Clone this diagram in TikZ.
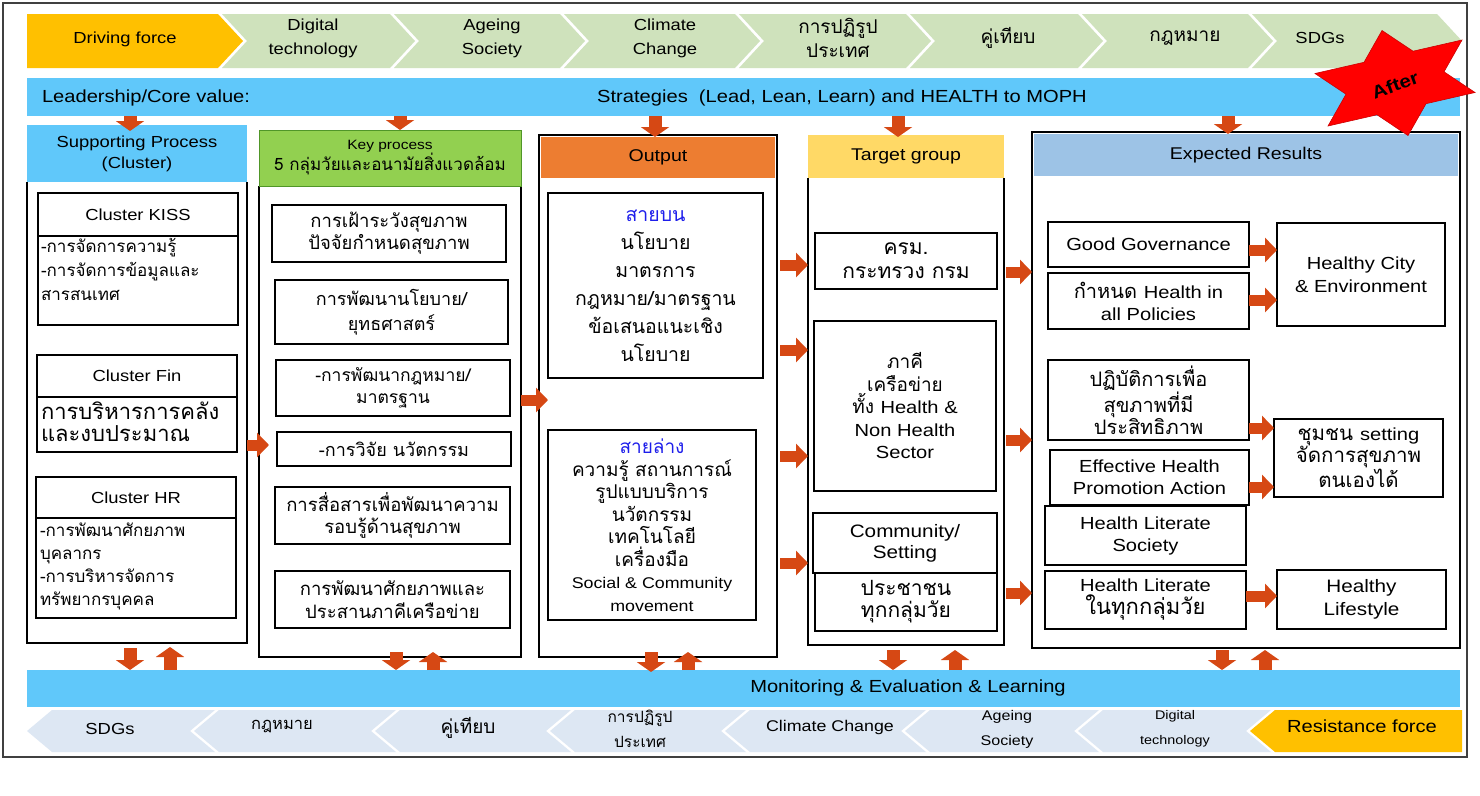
\documentclass[tikz,border=0pt]{standalone}
\usepackage{fontspec}
\setmainfont[FakeStretch=1.15]{Liberation Sans}
\newfontfamily\thai[Script=Thai]{Loma}
\newfontfamily\lat[FakeStretch=1.15]{Liberation Sans}
\usetikzlibrary{shapes.geometric,arrows.meta}
\definecolor{barblue}{RGB}{96,200,250}
\definecolor{chevgreen}{RGB}{207,226,188}
\definecolor{chevblue}{RGB}{221,231,243}
\definecolor{gold}{RGB}{255,192,0}
\definecolor{keygreen}{RGB}{146,208,80}
\definecolor{keyedge}{RGB}{80,150,40}
\definecolor{outorange}{RGB}{237,125,49}
\definecolor{tgyellow}{RGB}{255,217,102}
\definecolor{erblue}{RGB}{157,195,230}
\definecolor{arr}{RGB}{214,72,20}
\definecolor{thblue}{RGB}{30,30,235}
\newcommand\chevR[4]{\fill[#3] (#1,14) -- ({#2-25},14) -- (#2,41) -- ({#2-25},68) -- (#1,68) -- ({#1+25*#4},41) -- cycle;}
\newcommand\chevL[4]{\fill[#3] (#1,731) -- ({#1+25},710) -- (#2,710) -- ({#2-25*#4},731) -- (#2,752) -- ({#1+25},752) -- cycle;}
\newcommand\bx[6][]{\node[box,#1,minimum width={(#4-#2)*1pt},minimum height={(#5-#3)*1pt}] at ({(#2+#4)/2},{(#3+#5)/2}) {#6};}
\begin{document}
\begin{tikzpicture}[x=1pt,y=-1pt,
  every node/.style={align=center,inner sep=0pt,outer sep=0pt},
  box/.style={draw=black,line width=1.2pt,fill=white},
  colline/.style={draw=black,line width=2.6pt},
  thf/.style 2 args={font=\thai\fontsize{#1}{#2}\selectfont},
  enf/.style 2 args={font=\lat\fontsize{#1}{#2}\selectfont},
  rarr/.style={draw=arr,line width=11pt,-{Triangle[width=24pt,length=12pt]}},
  varr/.style={draw=arr,line width=13pt,-{Triangle[width=28pt,length=10pt]}},
]
\useasboundingbox (0,0) rectangle (1480,795);
\fill[white] (0,0) rectangle (1480,795);
\node[draw=black!75,line width=1.2pt,minimum width=1464pt,minimum height=754pt] (frame) at (735,380) {};

% top chevrons
\chevR{27}{243}{gold}{0}
\chevR{222}{415}{chevgreen}{1}
\chevR{394}{585}{chevgreen}{1}
\chevR{564}{760}{chevgreen}{1}
\chevR{739}{931}{chevgreen}{1}
\chevR{910}{1103}{chevgreen}{1}
\chevR{1082}{1273}{chevgreen}{1}
\chevR{1252}{1462}{chevgreen}{1}
\node[enf={16}{24}] (tc1) at (125,39) {Driving force};
\node[enf={16}{24}] (tc2) at (313,38) {Digital\\technology};
\node[enf={16}{24}] (tc3) at (492,38) {Ageing\\Society};
\node[enf={16}{24}] (tc4) at (665,38) {Climate\\Change};
\node[thf={19}{24}] (tc5) at (838,38) {การปฏิรูป\\ประเทศ};
\node[thf={19}{24}] (tc6) at (1008,38) {คู่เทียบ};
\node[thf={19}{24}] (tc7) at (1185,38) {กฎหมาย};
\node[enf={16}{24}] (tc8) at (1320,38) {SDGs};

% leadership bar
\node[fill=barblue,minimum width=1433pt,minimum height=38pt] (lead) at (743.5,97) {};
\node[enf={17.5}{20},anchor=west] (leadt) at (42,98) {Leadership/Core value:};
\node[enf={17.5}{20}] (strat) at (842,98) {Strategies\ \ (Lead, Lean, Learn) and HEALTH to MOPH};

% bottom bar
\node[fill=barblue,minimum width=1433pt,minimum height=37pt] (mel) at (743.5,688.5) {};
\node[enf={17.5}{20}] (melt) at (908,688) {Monitoring \& Evaluation \& Learning};

% bottom chevrons
\chevL{27}{215}{chevblue}{1}
\chevL{194}{396}{chevblue}{1}
\chevL{375}{571}{chevblue}{1}
\chevL{550}{746}{chevblue}{1}
\chevL{725}{926}{chevblue}{1}
\chevL{905}{1099}{chevblue}{1}
\chevL{1078}{1271}{chevblue}{1}
\chevL{1250}{1462}{gold}{0}
\node[enf={16}{24}] (bc1) at (110,729) {SDGs};
\node[thf={16.5}{24}] (bc2) at (282,727) {กฎหมาย};
\node[thf={19}{24}] (bc3) at (468,728) {คู่เทียบ};
\node[thf={15.5}{25}] (bc4) at (640,729) {การปฏิรูป\\ประเทศ};
\node[enf={15.5}{24}] (bc5) at (830,727) {Climate Change};
\node[enf={14}{25}] (bc6) at (1007,729) {Ageing\\Society};
\node[enf={12.5}{25}] (bc7) at (1175,729) {Digital\\technology};
\node[enf={17.5}{24}] (bc8) at (1362,726) {Resistance force};

% ---------- column 1
\bx[name=c1,draw=none]{27}{182}{247}{643}{}
\draw[colline] (c1.north west) -- (c1.south west) -- (c1.south east) -- (c1.north east);
\bx[name=h1,draw=none,fill=barblue,enf={16}{21}]{27}{125}{247}{182}{Supporting Process\\(Cluster)}
\bx[name=kissH,enf={16}{20}]{38}{193}{238}{236}{Cluster KISS}
\bx[name=kissB]{38}{236}{238}{325}{}
\node[thf={17}{24},anchor=west,align=left] (kisst) at (41,269) {-การจัดการความรู้\\-การจัดการข้อมูลและ\\สารสนเทศ};
\bx[name=finH,enf={16}{20}]{37}{355}{237}{397}{Cluster Fin}
\bx[name=finB]{37}{397}{237}{452}{}
\node[thf={22}{22},anchor=west,align=left] (fint) at (41,422) {การบริหารการคลัง\\และงบประมาณ};
\bx[name=hrH,enf={16}{20}]{36}{477}{236}{518}{Cluster HR}
\bx[name=hrB]{36}{518}{236}{618}{}
\node[thf={17}{23},anchor=west,align=left] (hrt) at (40,566) {-การพัฒนาศักยภาพ\\บุคลากร\\-การบริหารจัดการ\\ทรัพยากรบุคคล};

% ---------- column 2
\bx[name=c2,draw=none]{259}{186}{521}{657}{}
\draw[colline] (c2.north west) -- (c2.south west) -- (c2.south east) -- (c2.north east);
\bx[name=h2,draw=keyedge,line width=1pt,fill=keygreen,thf={17}{21}]{259}{130}{521}{186}{{\lat\fontsize{13.5}{14}\selectfont Key process}\\5 กลุ่มวัยและอนามัยสิ่งแวดล้อม}
\bx[name=k1,thf={18.5}{22}]{272}{205}{506}{262}{การเฝ้าระวังสุขภาพ\\ปัจจัยกำหนดสุขภาพ}
\bx[name=k2,thf={18}{25}]{275}{280}{508}{344}{การพัฒนานโยบาย/\\ยุทธศาสตร์}
\bx[name=k3,thf={17.5}{22}]{276}{360}{510}{416}{-การพัฒนากฎหมาย/\\มาตรฐาน}
\bx[name=k4,thf={18}{22}]{277}{432}{511}{466}{-การวิจัย นวัตกรรม}
\bx[name=k5,thf={18.5}{22}]{275}{487}{510}{544}{การสื่อสารเพื่อพัฒนาความ\\รอบรู้ด้านสุขภาพ}
\bx[name=k6,thf={18.5}{23}]{275}{571}{510}{628}{การพัฒนาศักยภาพและ\\ประสานภาคีเครือข่าย}

% ---------- column 3
\bx[name=c3,colline]{539}{135}{777}{657}{}
\bx[name=h3,draw=none,fill=outorange,enf={17}{20}]{541}{137}{775}{178}{Output}
\bx[name=o1,thf={19.5}{28}]{548}{193}{763}{378}{\textcolor{thblue}{สายบน}\\นโยบาย\\มาตรการ\\กฎหมาย/มาตรฐาน\\ข้อเสนอแนะเชิง\\นโยบาย}
\bx[name=o2,thf={19}{22.5}]{548}{430}{756}{620}{\textcolor{thblue}{สายล่าง}\\ความรู้ สถานการณ์\\รูปแบบบริการ\\นวัตกรรม\\เทคโนโลยี\\เครื่องมือ\\{\lat\fontsize{15.5}{20}\selectfont Social \& Community}\\{\lat\fontsize{15.5}{20}\selectfont movement}}

% ---------- column 4
\bx[name=c4,draw=none]{808}{178}{1004}{645}{}
\draw[colline] (c4.north west) -- (c4.south west) -- (c4.south east) -- (c4.north east);
\bx[name=h4,draw=none,fill=tgyellow,enf={17}{20}]{808}{135}{1004}{178}{Target group}
\bx[name=t1,thf={21}{24}]{815}{233}{997}{289}{ครม.\\กระทรวง กรม}
\bx[name=t2,thf={19}{22.5}]{814}{321}{996}{491}{ภาคี\\เครือข่าย\\ทั้ง {\lat\fontsize{17.5}{20}\selectfont Health \&}\\{\lat\fontsize{17.5}{20}\selectfont Non Health}\\{\lat\fontsize{17.5}{20}\selectfont Sector}}
\bx[name=t3,enf={18}{21}]{813}{513}{997}{573}{Community/\\Setting}
\bx[name=t4,thf={21}{22}]{815}{573}{997}{631}{ประชาชน\\ทุกกลุ่มวัย}

% ---------- column 5
\bx[name=c5,colline]{1032}{132}{1460}{648}{}
\bx[name=h5,draw=none,fill=erblue,enf={17}{20}]{1034}{134}{1458}{176}{Expected Results}
\bx[name=e1,enf={17.5}{22}]{1048}{222}{1249}{267}{Good Governance}
\bx[name=e2,thf={20}{22}]{1048}{273}{1249}{329}{กำหนด {\lat\fontsize{17.5}{20}\selectfont Health in}\\{\lat\fontsize{17.5}{20}\selectfont all Policies}}
\bx[name=e3,enf={17.5}{23}]{1277}{223}{1445}{326}{Healthy City\\\& Environment}
\bx[name=e4,thf={20}{22}]{1048}{360}{1249}{440}{ปฏิบัติการเพื่อ\\สุขภาพที่มี\\ประสิทธิภาพ}
\bx[name=e5,enf={17.5}{22}]{1050}{450}{1249}{505}{Effective Health\\Promotion Action}
\bx[name=e6,thf={20.5}{22}]{1274}{419}{1443}{497}{ชุมชน {\lat\fontsize{17.5}{20}\selectfont setting}\\จัดการสุขภาพ\\ตนเองได้}
\bx[name=e7,enf={17.5}{22}]{1045}{506}{1246}{565}{Health Literate\\Society}
\bx[name=e8,thf={22}{23}]{1045}{571}{1246}{629}{{\lat\fontsize{17.5}{20}\selectfont Health Literate}\\ในทุกกลุ่มวัย}
\bx[name=e9,enf={18}{23}]{1277}{570}{1446}{629}{Healthy\\Lifestyle}

% ---------- arrows: bar to headers
\draw[varr,shorten >=-6pt] (lead.south -| 130,0) -- (h1.north -| 130,0);
\draw[varr] (lead.south -| 400,0) -- (h2.north -| 400,0);
\draw[varr,shorten >=-2pt] (lead.south -| 655,0) -- (c3.north -| 655,0);
\draw[varr,shorten >=-2pt] (lead.south -| 898,0) -- (h4.north -| 898,0);
\draw[varr,shorten >=-2pt] (lead.south -| 1228,0) -- (c5.north -| 1228,0);

% ---------- arrows between columns
\draw[rarr,shorten >=-10pt] (c1.east |- 0,445) -- (c2.west |- 0,445);
\draw[rarr,shorten >=-9pt] (c2.east |- 0,400) -- (c3.west |- 0,400);
\draw[rarr,shorten <=3pt] (c3.east |- 0,265) -- (c4.west |- 0,265);
\draw[rarr,shorten <=3pt] (c3.east |- 0,350) -- (c4.west |- 0,350);
\draw[rarr,shorten <=3pt] (c3.east |- 0,456) -- (c4.west |- 0,456);
\draw[rarr,shorten <=3pt] (c3.east |- 0,563) -- (c4.west |- 0,563);
\draw[rarr,shorten <=2pt] (c4.east |- 0,272) -- (c5.west |- 0,272);
\draw[rarr,shorten <=2pt] (c4.east |- 0,440) -- (c5.west |- 0,440);
\draw[rarr,shorten <=2pt] (c4.east |- 0,593) -- (c5.west |- 0,593);

% ---------- arrows inside expected results
\draw[rarr] (e1.east |- 0,250) -- (e3.west |- 0,250);
\draw[rarr] (e2.east |- 0,300) -- (e3.west |- 0,300);
\draw[rarr] (e4.east |- 0,428) -- (e6.west |- 0,428);
\draw[rarr] (e5.east |- 0,487) -- (e6.west |- 0,487);
\draw[rarr] (e8.east |- 0,596) -- (e9.west |- 0,596);

% ---------- arrows columns <-> monitoring bar
\draw[varr,shorten <=5pt] (c1.south -| 130,0) -- (mel.north -| 130,0);
\draw[varr,shorten >=4pt] (mel.north -| 170,0) -- (c1.south -| 170,0);
\draw[varr,shorten <=-5pt] (c2.south -| 396,0) -- (mel.north -| 396,0);
\draw[varr,shorten >=-5pt] (mel.north -| 433,0) -- (c2.south -| 433,0);
\draw[varr,shorten <=-5pt,shorten >=-2pt] (c3.south -| 651,0) -- (mel.north -| 651,0);
\draw[varr,shorten >=-5pt] (mel.north -| 688,0) -- (c3.south -| 688,0);
\draw[varr,shorten <=5pt] (c4.south -| 893,0) -- (mel.north -| 893,0);
\draw[varr,shorten >=5pt] (mel.north -| 955,0) -- (c4.south -| 955,0);
\draw[varr,shorten <=2pt] (c5.south -| 1222,0) -- (mel.north -| 1222,0);
\draw[varr,shorten >=2pt] (mel.north -| 1265,0) -- (c5.south -| 1265,0);

% ---------- star
\fill[red,draw=red!80!black,line width=0.6pt,shift={(1395,83)}]
  (-13,-52.5) -- (18,-31.8) -- (67,-43) -- (49,-11.2) -- (80,9.5) -- (31,20.7)
  -- (13,52.5) -- (-18,31.8) -- (-67,43) -- (-49,11.2) -- (-80,-9.5) -- (-31,-20.7) -- cycle;
\node[rotate=20,font=\lat\bfseries\fontsize{18}{20}\selectfont] (after) at (1395,85) {After};
\end{tikzpicture}
\end{document}
